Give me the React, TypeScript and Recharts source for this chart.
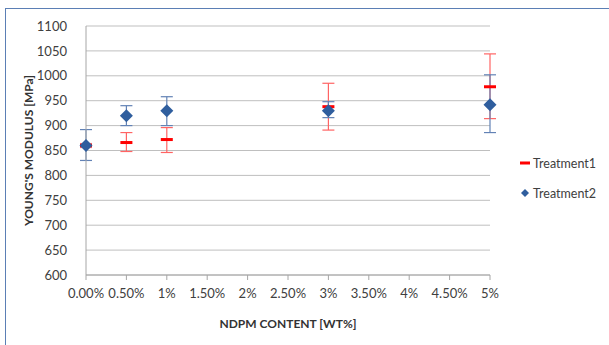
import React from 'react';
import { CartesianGrid, ErrorBar, Legend, Scatter, ScatterChart, XAxis, YAxis } from 'recharts';

// NDPM content (wt%)
const contents = [0, 0.5, 1, 3, 5];
// Young's modulus (MPa)
const treatment1 = [860, 866, 872, 938, 978];
const treatment1Err = [[4, 4], [18, 20], [26, 24], [47, 47], [64, 66]];
const treatment2 = [860, 920, 930, 930, 942];
const treatment2Err = [[30, 32], [20, 20], [30, 28], [14, 18], [56, 60]];

const xTicks = [0, 0.5, 1, 1.5, 2, 2.5, 3, 3.5, 4, 4.5, 5];
const xTickLabels = ['0.00%', '0.50%', '1%', '1.50%', '2%', '2.50%', '3%', '3.50%', '4%', '4.50%', '5%'];
const yTicks = [600, 650, 700, 750, 800, 850, 900, 950, 1000, 1050, 1100];

const t1Data = contents.map((x, i) => ({ x, y: treatment1[i], err: treatment1Err[i] }));
const t2Data = contents.map((x, i) => ({ x, y: treatment2[i], err: treatment2Err[i] }));

const RED = '#ff0000';
const BLUE = '#2f5e9e';
const FONT = 'Lato, "Open Sans", sans-serif';

const Dash = (props: any) => {
  const { cx, cy } = props;
  return <rect x={cx - 6} y={cy - 1.5} width={12} height={3} fill={RED} />;
};

const Diamond = (props: any) => {
  const { cx, cy } = props;
  const r = 6.5;
  return <path d={`M${cx},${cy - r}L${cx + r},${cy}L${cx},${cy + r}L${cx - r},${cy}Z`} fill={BLUE} />;
};

const renderLegend = () => (
  <div style={{ fontFamily: FONT, fontSize: 12.5, color: '#404040' }}>
    <div style={{ display: 'flex', alignItems: 'center', height: 30 }}>
      <svg width={14} height={10}><rect x={2} y={3.5} width={10} height={3} fill={RED} /></svg>
      <span style={{ marginLeft: 1 }}>Treatment1</span>
    </div>
    <div style={{ display: 'flex', alignItems: 'center', height: 30 }}>
      <svg width={14} height={10}><path d="M7,1L11,5L7,9L3,5Z" fill={BLUE} /></svg>
      <span style={{ marginLeft: 1 }}>Treatment2</span>
    </div>
  </div>
);

export default function App() {
  return (
    <div style={{ position: 'absolute', left: 0, top: 0, width: 609, height: 345, background: '#fff' }}>
      <div style={{ position: 'absolute', left: 5, top: 8, width: 620, height: 350, border: '1px solid #5b7fb5', boxSizing: 'border-box' }} />
      <ScatterChart width={609} height={345} margin={{ top: 26, right: 29, bottom: 15, left: 26 }}>
        <CartesianGrid horizontal vertical={false} stroke="#bfbfbf" />
        <XAxis
          type="number"
          dataKey="x"
          domain={[0, 5]}
          ticks={xTicks}
          tickFormatter={(v: number) => xTickLabels[xTicks.indexOf(v)]}
          height={55}
          stroke="#a6a6a6"
          tickSize={5}
          tickMargin={9}
          tick={{ fill: '#404040', fontSize: 13, fontFamily: FONT }}
          interval={0}
          label={{ value: 'NDPM CONTENT [WT%]', position: 'insideBottom', offset: 2, fill: '#333', fontSize: 12, fontWeight: 'bold', fontFamily: FONT }}
        />
        <YAxis
          type="number"
          dataKey="y"
          domain={[600, 1100]}
          ticks={yTicks}
          width={60}
          stroke="#a6a6a6"
          tickLine={false}
          tickMargin={13}
          tick={{ fill: '#404040', fontSize: 13, fontFamily: FONT }}
          interval={0}
          label={{ value: "YOUNG'S MODULUS [MPa]", angle: -90, position: 'insideLeft', offset: 3, style: { textAnchor: 'middle' }, fill: '#333', fontSize: 12, fontWeight: 'bold', fontFamily: FONT }}
        />
        <Legend
          layout="vertical"
          align="right"
          verticalAlign="top"
          content={renderLegend}
          wrapperStyle={{ left: 518, top: 148, width: 90 }}
        />
        <Scatter name="Treatment1" data={t1Data} shape={Dash} isAnimationActive={false}>
          <ErrorBar dataKey="err" direction="y" width={6} stroke="#ff6464" strokeWidth={1.2} />
        </Scatter>
        <Scatter name="Treatment2" data={t2Data} shape={Diamond} isAnimationActive={false}>
          <ErrorBar dataKey="err" direction="y" width={6} stroke="#6282b5" strokeWidth={1.2} />
        </Scatter>
      </ScatterChart>
    </div>
  );
}
